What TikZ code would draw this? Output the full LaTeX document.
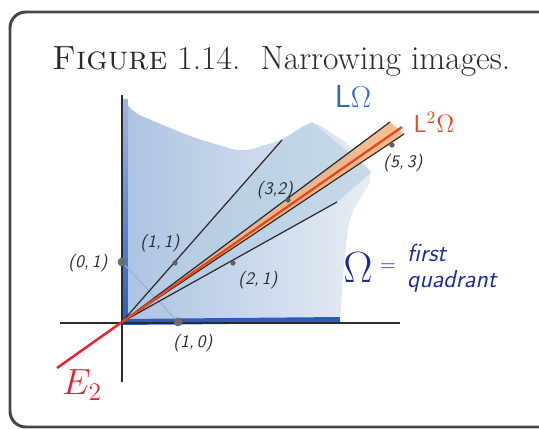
\documentclass[tikz,border=0pt]{standalone}
\usepackage{amsmath}
\definecolor{ink}{HTML}{2B2B2B}
\definecolor{frame}{HTML}{474747}
\definecolor{axisblue}{HTML}{2A5DBF}
\definecolor{hatchdark}{HTML}{9DB8DC}
\definecolor{hatchlight}{HTML}{E3EBF3}
\definecolor{coneblue}{HTML}{B3CDE0}
\definecolor{lblue}{HTML}{2A6CC0}
\definecolor{peach}{HTML}{F4B07C}
\definecolor{redorange}{HTML}{E8461E}
\definecolor{eigred}{HTML}{E62035}
\definecolor{navy}{HTML}{1B2B9B}

\begin{document}
\begin{tikzpicture}[x=0.02cm,y=-0.02cm,font=\sffamily,text=ink,
  dot/.style={circle,fill=ink!75,inner sep=0pt,minimum size=3pt},
  bigdot/.style={circle,fill=ink!70,inner sep=0pt,minimum size=5pt},
  coordlabel/.style={font=\sffamily\slshape\fontsize{10}{12}\selectfont}]
  \useasboundingbox (0,0) rectangle (539,429);
  \begin{scope}
    \clip (0,0) rectangle (539,429);
    \draw[frame,line width=1.7pt,rounded corners=9pt] (10,12) rectangle (600,427);
  \end{scope}
  \node[anchor=base west,font=\rmfamily\fontsize{19.1}{22}\selectfont] (title) at (46,70)
    {\textsc{Figure} 1.14.\ \ Narrowing images.};

  \coordinate (O) at (122,322);
  \coordinate (xl) at (60,323);   \coordinate (xr) at (400,323);
  \coordinate (yt) at (122,95);   \coordinate (yb) at (122,382);
  \coordinate (end11) at (282,140);
  \coordinate (end21) at (337,202);
  \coordinate (end32) at (390,122);
  \coordinate (end53) at (404,134);
  \coordinate (endL) at (402,127);
  \coordinate (endE) at (57,368);

  \shade[left color=hatchdark,right color=hatchlight,opacity=.85,rounded corners=6pt]
    (O) -- (124,100) -- (132,112) -- (158,123) -- (192,137) -- (242,152) -- (282,140)
    -- (312,120) -- (350,145) -- (374,176) -- (350,215) -- (344,262) -- (340,322) -- cycle;
  \fill[coneblue,opacity=.6] (O) -- (end11) -- (312,122) -- (372,172) -- (end21) -- cycle;
  \fill[peach,opacity=.85] (O) -- (end32) -- (end53) -- cycle;

  \draw[axisblue,line width=3.4pt] (O) -- (340,320);
  \shade[bottom color=axisblue,top color=axisblue!45] (122,322) rectangle (128,100);
  \draw[ink,line width=.9pt] (xl) -- (xr);
  \draw[ink,line width=.9pt] (yb) -- (yt);

  \node[bigdot] (e1) at (178,322) {};
  \node[bigdot] (e2) at (122,262) {};
  \draw[axisblue!50,line width=.6pt] (e2) -- (e1);

  \draw[ink,line width=.7pt] (O) -- (end11);
  \draw[ink,line width=.7pt] (O) -- (end21);
  \draw[ink,line width=.7pt] (O) -- (end32);
  \draw[ink,line width=.7pt] (O) -- (end53);
  \draw[redorange,line width=1.3pt] (O) -- (endL);
  \draw[eigred,line width=1.4pt] (O) -- (endE);

  \node[dot] (p11) at (175,263) {};
  \node[dot] (p21) at (233,263) {};
  \node[dot] (p32) at (288,200) {};
  \node[dot] (p53) at (392,145) {};

  \node[coordlabel] (l01) at (88,263) {(0,\,1)};
  \node[coordlabel] (l10) at (193,343) {(1,\,0)};
  \node[coordlabel] (l11) at (160,243) {(1,\,1)};
  \node[coordlabel] (l21) at (258,280) {(2,\,1)};
  \node[coordlabel] (l32) at (275,190) {(3,2)};
  \node[coordlabel] (l53) at (403,163) {(5,\,3)};

  \node[text=lblue,font=\sffamily\fontsize{18}{20}\selectfont] (LOmega) at (353,97) {L$\Omega$};
  \node[text=redorange,font=\sffamily\fontsize{14}{16}\selectfont] (L2Omega) at (434,122) {L$^2\Omega$};
  \node[text=eigred,font=\fontsize{20}{22}\selectfont] (E2) at (82,385) {$E_2$};
  \node[text=navy,font=\fontsize{24}{26}\selectfont] (Om) at (358,268) {$\Omega$};
  \node[text=navy,font=\fontsize{12}{14}\selectfont] (eq) at (388,268) {$=$};
  \node[text=navy,align=left,anchor=west,font=\sffamily\slshape\fontsize{14}{15}\selectfont]
    (quad) at (401,268) {first\\quadrant};
\end{tikzpicture}
\end{document}
